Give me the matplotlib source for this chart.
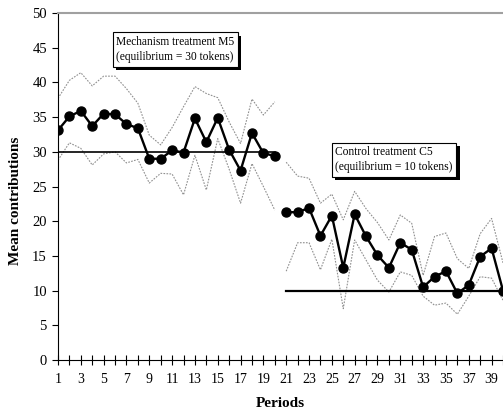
import matplotlib
matplotlib.use("Agg")
import matplotlib.pyplot as plt
import matplotlib.patheffects as pe
import numpy as np

periods = list(range(1, 41))
mean = [33.1, 35.1, 35.9, 33.7, 35.5, 35.4, 34.0, 33.4, 29.0, 29.0,
        30.2, 29.9, 34.8, 31.4, 34.9, 30.3, 27.3, 32.7, 29.8, 29.4,
        21.3, 21.3, 21.9, 17.9, 20.8, 13.3, 21.0, 17.8, 15.1, 13.3,
        16.9, 15.9, 10.5, 12.0, 12.8, 9.6, 10.8, 14.9, 16.1, 10.0]
upper = [37.7, 40.3, 41.4, 39.5, 40.9, 40.9, 39.1, 37.0, 32.4, 31.0,
         33.5, 36.5, 39.4, 38.4, 37.8, 34.3, 31.2, 37.6, 35.3, 37.2,
         28.5, 26.5, 26.2, 22.6, 23.9, 20.2, 24.3, 21.8, 19.8, 17.3,
         20.9, 19.7, 12.2, 17.8, 18.3, 14.6, 13.2, 18.2, 20.4, 14.0]
lower = [28.8, 31.3, 30.5, 28.1, 29.7, 30.0, 28.4, 28.9, 25.5, 26.9,
         26.8, 23.8, 29.5, 24.5, 31.9, 27.5, 22.6, 28.3, 25.0, 21.6,
         12.8, 16.9, 16.9, 13.0, 17.4, 7.4, 17.3, 14.4, 11.5, 9.8,
         12.7, 12.2, 9.2, 7.9, 8.2, 6.6, 9.2, 12.0, 11.8, 8.6]
eq_mech_periods = [1, 20]
eq_mech = [30, 30]
eq_ctrl_periods = [21, 40]
eq_ctrl = [10, 10]
yticks = [0, 5, 10, 15, 20, 25, 30, 35, 40, 45, 50]

plt.rcParams['font.family'] = ['Liberation Serif', 'DejaVu Serif']

fig = plt.figure(figsize=(5.03, 4.13), dpi=100)
ax = fig.add_axes([0.1153, 0.1283, 0.8847, 0.8402])

band_style = dict(color='#8f8f8f', lw=0.8, linestyle=(0, (1.5, 1.2)))
ax.plot(periods[:20], upper[:20], **band_style)
ax.plot(periods[:20], lower[:20], **band_style)
ax.plot(periods[20:], upper[20:], **band_style)
ax.plot(periods[20:], lower[20:], **band_style)

ax.plot(eq_mech_periods, eq_mech, color='black', lw=1.2)
ax.plot(eq_ctrl_periods, eq_ctrl, color='black', lw=1.6)

ax.plot(periods[:20], mean[:20], color='black', lw=1.7, marker='o', ms=6.5)
ax.plot(periods[20:], mean[20:], color='black', lw=1.7, marker='o', ms=6.5)

ax.set_xlim(1, 40)
ax.set_ylim(0, 50)
ax.set_yticks(yticks)
ax.set_yticklabels([str(v) for v in yticks], fontsize=10.5)
ax.set_xticks(periods)
ax.set_xticklabels([str(p) if p % 2 == 1 else '' for p in periods], fontsize=10)
ax.tick_params(axis='x', direction='inout', length=7, width=0.8, pad=6)
ax.tick_params(axis='y', direction='out', length=4, width=0.8, pad=4)

ax.spines['right'].set_visible(False)
ax.spines['top'].set_color('#a0a0a0')
ax.spines['top'].set_linewidth(1.5)
ax.spines['left'].set_linewidth(0.8)
ax.spines['bottom'].set_linewidth(0.8)

ax.set_xlabel('Periods', fontsize=11, fontweight='bold', labelpad=8)
ax.set_ylabel('Mean contributions', fontsize=11, fontweight='bold')
ax.yaxis.set_label_coords(-0.082, 0.46)

shadow = [pe.withSimplePatchShadow(offset=(2.5, -2.5), shadow_rgbFace='black', alpha=1.0)]
t1 = ax.text(6.1, 46.7, 'Mechanism treatment M5\n(equilibrium = 30 tokens)',
             fontsize=8.3, ha='left', va='top', linespacing=1.35,
             bbox=dict(boxstyle='square,pad=0.3', fc='white', ec='black', lw=0.8))
t1.get_bbox_patch().set_path_effects(shadow)
t2 = ax.text(25.3, 30.8, 'Control treatment C5\n(equilibrium = 10 tokens)',
             fontsize=8.3, ha='left', va='top', linespacing=1.35,
             bbox=dict(boxstyle='square,pad=0.3', fc='white', ec='black', lw=0.8))
t2.get_bbox_patch().set_path_effects(shadow)

fig.savefig('out.png', dpi=100)
